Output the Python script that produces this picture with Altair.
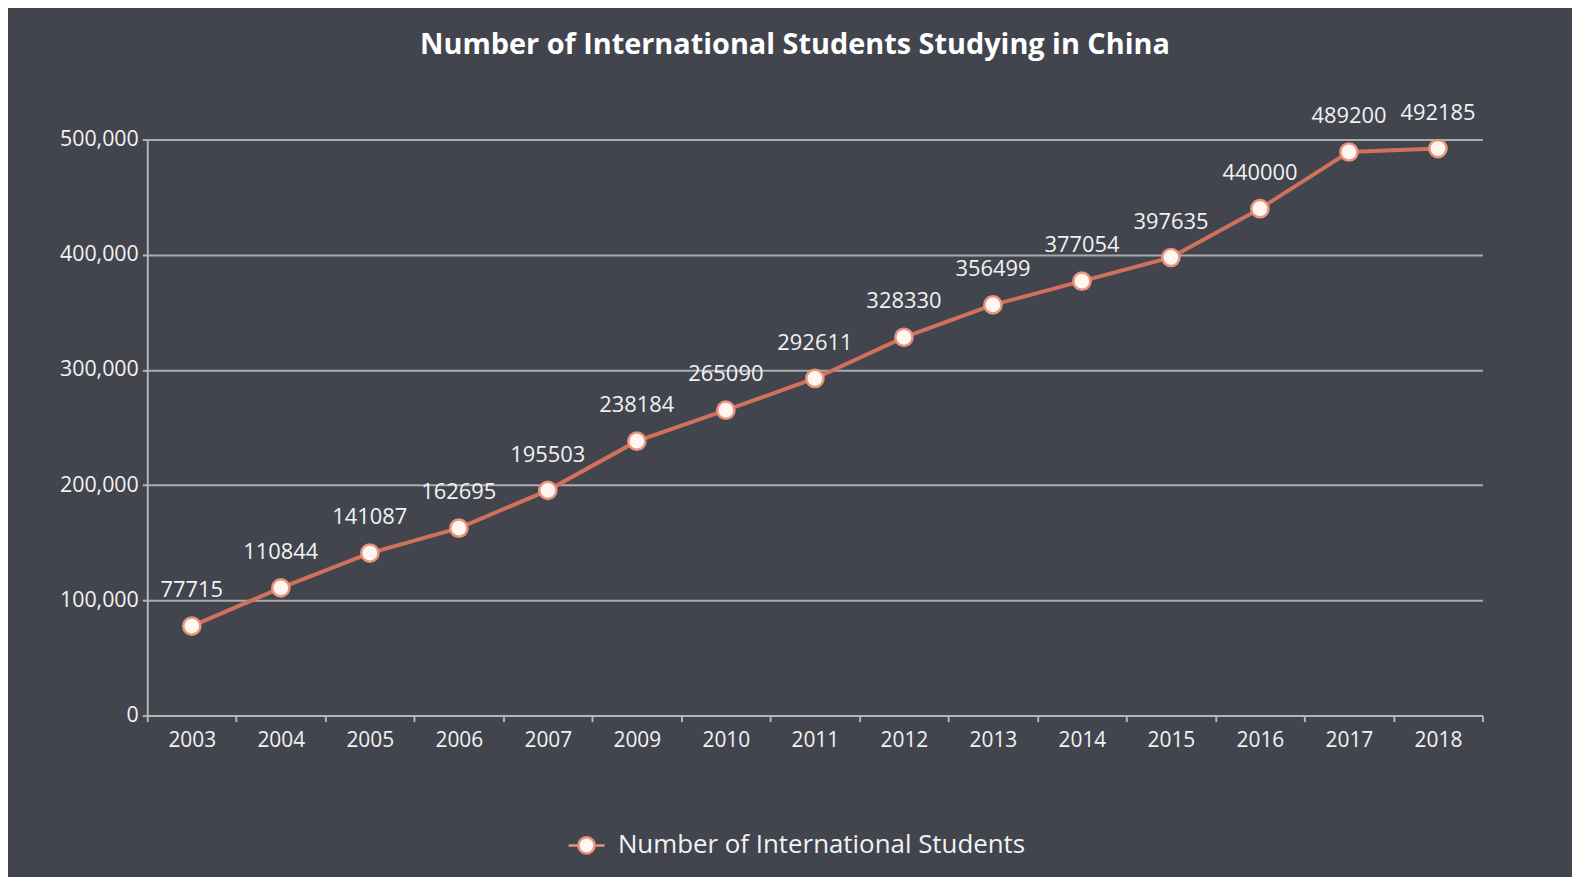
import altair as alt
import pandas as pd

years = ["2003", "2004", "2005", "2006", "2007", "2009", "2010", "2011",
         "2012", "2013", "2014", "2015", "2016", "2017", "2018"]
students = [77715, 110844, 141087, 162695, 195503, 238184, 265090, 292611,
            328330, 356499, 377054, 397635, 440000, 489200, 492185]
y_ticks = [0, 100000, 200000, 300000, 400000, 500000]
series_name = "Number of International Students"
title_text = "Number of International Students Studying in China"

df = pd.DataFrame({"year": years, "students": students, "series": series_name})

FONT = "Open Sans"
LINE = "#cf715b"
TXT = "#f2f2f2"

x = alt.X("year:O", sort=years, title=None,
          scale=alt.Scale(paddingInner=0, paddingOuter=0),
          axis=alt.Axis(labelAngle=0, labelPadding=8, tickBand="extent", grid=False))
y = alt.Y("students:Q", title=None,
          scale=alt.Scale(domain=[0, 500000], nice=False),
          axis=alt.Axis(values=y_ticks, labelExpr="format(datum.value, ',')",
                        labelPadding=4))

base = alt.Chart(df).encode(x=x, y=y)

line = base.mark_line(strokeWidth=4, color=LINE)

legend_symbol = ("M-1,0L-0.45,0M0.45,0L1,0M-0.45,0A0.45,0.45 0 1 0 0.45,0"
                 "A0.45,0.45 0 1 0 -0.45,0Z")

points = base.mark_point(filled=True, size=300, opacity=1, strokeWidth=2.5).encode(
    fill=alt.value("#fff7f0"),
    stroke=alt.Stroke("series:N", scale=alt.Scale(range=["#e8947f"]),
                      legend=alt.Legend(title=None, orient="none", legendX=422, legendY=690,
                                        symbolType=legend_symbol, symbolSize=1300,
                                        symbolFillColor="#fff7f0", symbolStrokeColor=LINE,
                                        symbolStrokeWidth=2.5, labelFontSize=26,
                                        labelColor=TXT, labelFont=FONT, labelOffset=12,
                                        labelLimit=600)),
)

labels = base.mark_text(dy=-24, baseline="bottom", fontSize=22, font=FONT, color=TXT).encode(
    text=alt.Text("students:Q", format="d")
)

chart = (line + points + labels).properties(
    width=1342, height=579,
    background="#42454d",
    padding={"left": 140, "top": 130, "right": 90, "bottom": 160},
    autosize=alt.AutoSizeParams(type="none"),
    title=alt.TitleParams(title_text, fontSize=29, font=FONT, fontWeight="bold",
                          color="#ffffff", anchor="middle", dx=-20, offset=42),
).configure_view(stroke=None).configure_axis(
    labelFont=FONT, labelColor=TXT, domainColor="#b5b5b5", domainWidth=2,
    tickColor="#b5b5b5", tickWidth=2,
).configure_axisX(
    labelFontSize=21, tickSize=6,
).configure_axisY(
    labelFontSize=21.5, tickSize=5, gridColor="#a9abae", gridWidth=2, gridOpacity=1,
)

chart.save("out.html", embed_options={"renderer": "svg", "actions": False})
